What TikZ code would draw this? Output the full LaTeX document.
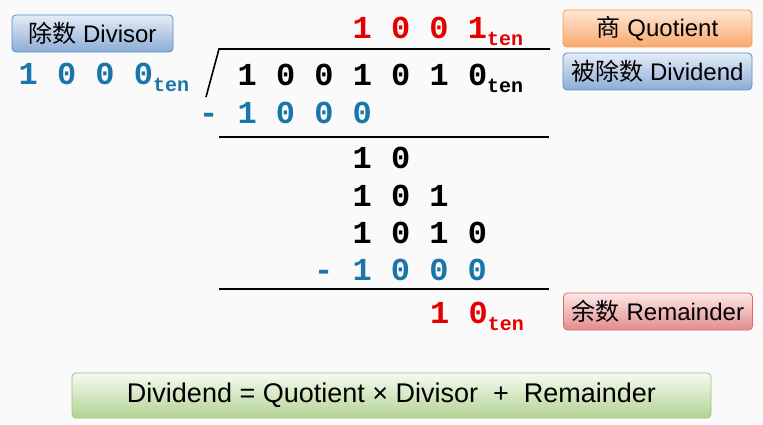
\documentclass[tikz,border=0pt]{standalone}
\usepackage{fontspec}
\setmainfont{Liberation Sans}
\newfontfamily\cjk{Noto Sans CJK SC}
\newfontfamily\digitfont{Liberation Mono}
\usetikzlibrary{positioning}
\definecolor{BG}{RGB}{250,250,250}
\definecolor{DIV-BLUE}{RGB}{25,118,170}
\definecolor{QUO-RED}{RGB}{228,0,0}
\definecolor{BOX-BLUE}{RGB}{80,145,205}
\definecolor{BOX-ORANGE}{RGB}{245,155,85}
\definecolor{BOX-RED}{RGB}{225,105,105}
\definecolor{BOX-GREEN}{RGB}{155,198,115}
\newcommand{\tensub}{{\fontsize{20}{20}\selectfont\raisebox{-7pt}{ten}}}

\begin{document}
\begin{tikzpicture}[x=1pt,y=-1pt,
		digits/.style={anchor=base west,inner sep=0,font=\digitfont\bfseries\fontsize{32}{32}\selectfont},
		namebox/.style={rounded corners=4pt,line width=0.8pt,minimum width=189pt,minimum height=37pt,inner sep=0,font=\fontsize{24}{24}\selectfont},
		bluebox/.style={namebox,draw=BOX-BLUE,top color={rgb,255:red,228;green,236;blue,247},bottom color={rgb,255:red,140;green,172;blue,214}},
		divline/.style={line width=1.6pt}]
			% background
			\fill[BG] (0,0) rectangle (763,425);

			% draw labels
			\node (divisor) at (92.5,33.5) [bluebox,minimum width=161pt] {{\cjk 除数} Divisor};
			\node (quotient) at (657.5,28.5) [namebox,draw=BOX-ORANGE,top color={rgb,255:red,253;green,232;blue,214},bottom color={rgb,255:red,250;green,168;blue,108}] {{\cjk 商} Quotient};
			\node (dividend) at (657.5,71.5) [bluebox] {{\cjk 被除数} Dividend};
			\node (remainder) at (658,311.5) [namebox,draw=BOX-RED,top color={rgb,255:red,252;green,232;blue,232},bottom color={rgb,255:red,226;green,140;blue,140}] {{\cjk 余数} Remainder};
			\node (formula) at (391.5,395.5) [namebox,minimum width=639pt,minimum height=45pt,font=\fontsize{27}{27}\selectfont,draw=BOX-GREEN,top color={rgb,255:red,246;green,251;blue,241},bottom color={rgb,255:red,178;green,210;blue,148}] {Dividend = Quotient × Divisor\ \ +\ \ Remainder};

			% draw digits
			\node (q_row) at (352.4,39) [digits,QUO-RED] {1 0 0 1\tensub};
			\node (d_row) at (18.4,84.5) [digits,DIV-BLUE] {1 0 0 0\tensub};
			\node (n_row) at (237.4,86) [digits] {1 0 0 1 0 1 0\tensub};
			\node (s_one) at (198.9,124) [digits,DIV-BLUE] {- 1 0 0 0};
			\node (r_one) at (352.4,168) [digits] {1 0};
			\node (r_two) at (352.4,206) [digits] {1 0 1};
			\node (r_three) at (352.4,243.5) [digits] {1 0 1 0};
			\node (s_two) at (313.9,280) [digits,DIV-BLUE] {- 1 0 0 0};
			\node (rem_row) at (430,323) [digits,QUO-RED] {1 0\tensub};

			% draw lines
			\draw[divline] (206,97) -- (219,49) -- (550,49);
			\draw[divline] (219,137) -- (549,137);
			\draw[divline] (219,289) -- (549,289);
		\end{tikzpicture}
\end{document}
